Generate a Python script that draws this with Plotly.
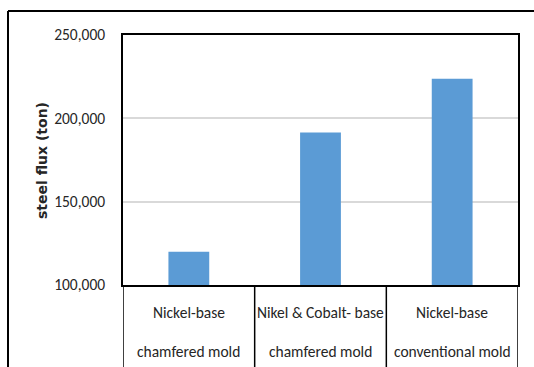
import plotly.graph_objects as go

# Steel flux per mold type
line1 = ["Nickel-base", "Nikel & Cobalt- base", "Nickel-base"]
line2 = ["chamfered mold", "chamfered mold", "conventional mold"]
steel_flux = [120000, 191500, 223800]
y_ticks = [100000, 150000, 200000, 250000]

W, H = 534, 367
L, R, T, B = 123, 518, 35, 285  # plot area edges in pixels

def px_x(px):
    return (px - L) / (R - L)

def px_y(py):
    return (B - py) / (B - T)

cats = list(range(len(steel_flux)))
FONT = "Carlito, Liberation Sans, Arial, sans-serif"
TXT = "#262626"

fig = go.Figure(go.Bar(
    x=cats, y=steel_flux, marker=dict(color="#5b9bd5", line=dict(width=0)),
    width=0.31,
))

shapes = []
# outer frame (top and left edges)
shapes.append(dict(type="line", xref="paper", yref="paper",
                   x0=px_x(8), x1=px_x(540), y0=px_y(11), y1=px_y(11),
                   line=dict(color="black", width=2)))
shapes.append(dict(type="line", xref="paper", yref="paper",
                   x0=px_x(8), x1=px_x(8), y0=px_y(11), y1=px_y(372),
                   line=dict(color="black", width=2)))
# category table dividers below the axis
for i in range(len(cats) + 1):
    shapes.append(dict(type="line", xref="x", yref="paper",
                       x0=i - 0.5, x1=i - 0.5, y0=0, y1=px_y(372),
                       line=dict(color="black", width=1.5)))

annotations = []
for i, (a, b) in enumerate(zip(line1, line2)):
    annotations.append(dict(x=i, y=px_y(312), xref="x", yref="paper", text=a,
                            showarrow=False, font=dict(family=FONT, size=15.5, color=TXT),
                            xanchor="center", yanchor="middle"))
    annotations.append(dict(x=i, y=px_y(351), xref="x", yref="paper", text=b,
                            showarrow=False, font=dict(family=FONT, size=15.5, color=TXT),
                            xanchor="center", yanchor="middle"))
annotations.append(dict(x=px_x(42), y=px_y(161), xref="paper", yref="paper",
                        text="<b>steel flux (ton)</b>", textangle=-90, showarrow=False,
                        font=dict(family="DejaVu Sans, sans-serif", size=14, color=TXT),
                        xanchor="center", yanchor="middle"))

fig.update_layout(
    width=W, height=H,
    margin=dict(l=L, r=W - R, t=T, b=H - B, pad=0),
    paper_bgcolor="white", plot_bgcolor="white",
    showlegend=False,
    shapes=shapes, annotations=annotations,
    xaxis=dict(range=[-0.5, 2.5], showticklabels=False, ticks="",
               showgrid=False, zeroline=False,
               showline=True, linecolor="black", linewidth=1.5, mirror=True),
    yaxis=dict(range=[100000, 250000], tickvals=y_ticks, tickformat=",",
               showgrid=True, gridcolor="#d9d9d9", gridwidth=1.5,
               zeroline=False, ticks="", ticklabelstandoff=13,
               tickfont=dict(family=FONT, size=15.5, color=TXT),
               showline=True, linecolor="black", linewidth=1.5, mirror=True),
)

fig.write_html("out.html")
